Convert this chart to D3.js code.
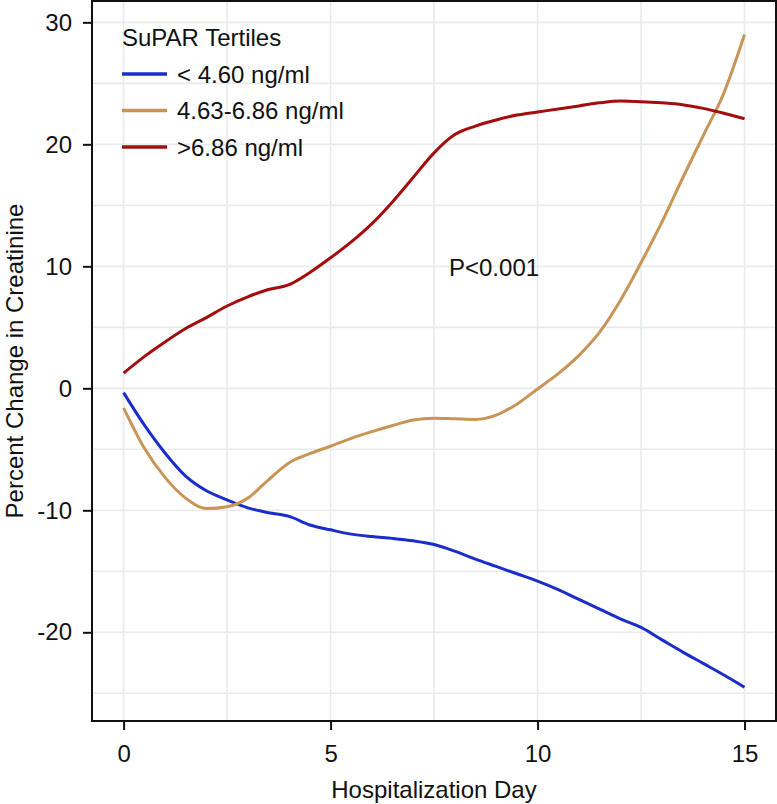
<!DOCTYPE html>
<html>
<head>
<meta charset="utf-8">
<script src="https://cdn.jsdelivr.net/npm/d3@7"></script>
<style>
  html, body { margin: 0; padding: 0; background: #fff; }
  svg { display: block; font-family: "Liberation Sans", Arial, Helvetica, sans-serif; }
</style>
</head>
<body>
<script>
// ---- Data ----
const days = [0,0.5,1,1.5,2,2.5,3,3.5,4,4.5,5,5.5,6,6.5,7,7.5,8,8.5,9,9.5,10,10.5,11,11.5,12,12.5,13,13.5,14,14.5,15];
const lowTertile = [-0.35,-3.0,-5.3,-7.2,-8.4,-9.15,-9.8,-10.2,-10.5,-11.2,-11.6,-11.95,-12.15,-12.3,-12.5,-12.8,-13.35,-14.0,-14.6,-15.2,-15.8,-16.5,-17.3,-18.1,-18.9,-19.6,-20.6,-21.6,-22.55,-23.5,-24.5];
const midTertile = [-1.6,-4.9,-7.3,-9.0,-9.85,-9.7,-9.0,-7.5,-6.1,-5.35,-4.75,-4.1,-3.55,-3.05,-2.6,-2.45,-2.5,-2.55,-2.2,-1.3,-0.05,1.2,2.7,4.6,7.2,10.3,13.6,17.2,20.7,24.2,29.0];
const highTertile = [1.25,2.6,3.8,4.9,5.8,6.75,7.5,8.1,8.5,9.5,10.7,12.0,13.5,15.3,17.3,19.3,20.8,21.5,22.0,22.4,22.65,22.9,23.15,23.4,23.55,23.5,23.4,23.25,22.95,22.55,22.1];
const seriesNames = ["< 4.60 ng/ml", "4.63-6.86 ng/ml", ">6.86 ng/ml"];
const seriesColors = ["#1a2dcc", "#c99556", "#a30d0d"];
const xTicks = [0, 5, 10, 15];
const yTicks = [-20, -10, 0, 10, 20, 30];
const xGrid = [0, 2.5, 5, 7.5, 10, 12.5, 15];
const yGrid = [-25, -20, -15, -10, -5, 0, 5, 10, 15, 20, 25, 30];
const legendTitle = "SuPAR Tertiles";
const annotation = "P<0.001";
const xTitle = "Hospitalization Day";
const yTitle = "Percent Change in Creatinine";

const W = 777, H = 804;
const L = 92, R = 776, T = 1, B = 721;
const FS = "24px";

const svg = d3.select("body").append("svg").attr("width", W).attr("height", H);

const x = d3.scaleLinear().domain([-0.763, 15.76]).range([L, R]);
const y = d3.scaleLinear().domain([-27.27, 31.75]).range([B, T]);

// grid
const g = svg.append("g");
g.selectAll(".vg").data(xGrid).join("line")
  .attr("x1", d => x(d)).attr("x2", d => x(d)).attr("y1", T).attr("y2", B)
  .attr("stroke", "#e7ebee").attr("stroke-width", 1.6);
g.selectAll(".hg").data(yGrid).join("line")
  .attr("y1", d => y(d)).attr("y2", d => y(d)).attr("x1", L).attr("x2", R)
  .attr("stroke", "#e7ebee").attr("stroke-width", 1.6);

// lines
const series = [lowTertile, midTertile, highTertile];
const line = d3.line().x((d, i) => x(days[i])).y(d => y(d)).curve(d3.curveMonotoneX);
svg.append("g").selectAll("path").data(series).join("path")
  .attr("d", d => line(d))
  .attr("fill", "none")
  .attr("stroke", (d, i) => seriesColors[i])
  .attr("stroke-width", 3)
  .attr("stroke-linejoin", "round");

// frame
svg.append("rect").attr("x", L).attr("y", T).attr("width", R - L).attr("height", B - T)
  .attr("fill", "none").attr("stroke", "#111").attr("stroke-width", 2);

// axes
const fmt = d => String(d);
const xAxis = svg.append("g").attr("transform", `translate(0,${B})`)
  .call(d3.axisBottom(x).tickValues(xTicks).tickSize(9).tickPadding(15).tickFormat(fmt));
const yAxis = svg.append("g").attr("transform", `translate(${L},0)`)
  .call(d3.axisLeft(y).tickValues(yTicks).tickSize(9).tickPadding(11).tickFormat(fmt));
[xAxis, yAxis].forEach(a => {
  a.select(".domain").remove();
  a.selectAll(".tick line").attr("stroke", "#111").attr("stroke-width", 2);
  a.selectAll(".tick text").attr("fill", "#111").style("font-size", FS)
    .style("font-family", "'Liberation Sans', Arial, sans-serif");
});

// axis titles
svg.append("text").attr("x", (L + R) / 2).attr("y", 798).attr("text-anchor", "middle")
  .style("font-size", FS).attr("fill", "#111").text(xTitle);
svg.append("text").attr("transform", `translate(23,${(T + B) / 2}) rotate(-90)`)
  .attr("text-anchor", "middle").style("font-size", FS).attr("fill", "#111").text(yTitle);

// legend
svg.append("text").attr("x", 122).attr("y", 45.5).style("font-size", FS).attr("fill", "#111").text(legendTitle);
const legY = [74, 110.5, 147];
const lg = svg.append("g");
seriesNames.forEach((name, i) => {
  lg.append("line").attr("x1", 122).attr("x2", 167).attr("y1", legY[i]).attr("y2", legY[i])
    .attr("stroke", seriesColors[i]).attr("stroke-width", 3.5);
  lg.append("text").attr("x", 177).attr("y", legY[i] + 8.5).style("font-size", FS)
    .attr("fill", "#111").text(name);
});

// annotation
svg.append("text").attr("x", 449).attr("y", 276).style("font-size", FS).attr("fill", "#111").text(annotation);
</script>
</body>
</html>
